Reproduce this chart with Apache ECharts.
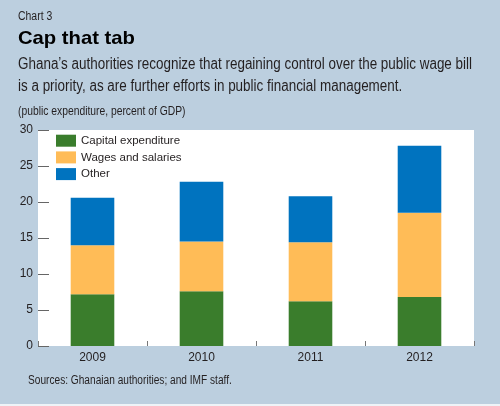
<!DOCTYPE html>
<html>
<head>
<meta charset="utf-8">
<script src="https://cdn.jsdelivr.net/npm/echarts@6/dist/echarts.min.js"></script>
<style>
html,body{margin:0;padding:0;background:#bccfdf;}
#c{width:500px;height:406px;}
</style>
</head>
<body>
<div id="c"></div>
<script>
var categories = ['2009', '2010', '2011', '2012'];
var capitalExpenditure = [7.2, 7.6, 6.2, 6.8];
var wagesAndSalaries = [6.8, 6.9, 8.2, 11.7];
var other = [6.6, 8.3, 6.4, 9.3];
var yTicks = [0, 5, 10, 15, 20, 25, 30];

var FONT = "'Liberation Sans','Arimo',sans-serif";
var TXT = '#231f20';

var chart = echarts.init(document.getElementById('c'), null, {renderer: 'canvas'});
chart.setOption({
  backgroundColor: '#bccfdf',
  animation: false,
  textStyle: {fontFamily: FONT, color: TXT},
  graphic: [
    {type: 'text', x: 18, y: 11, scaleX: 0.87, style: {text: 'Chart 3', font: '12px ' + FONT, fill: TXT}},
    {type: 'text', x: 18, y: 29, scaleX: 1.065, style: {text: 'Cap that tab', font: 'bold 19px ' + FONT, fill: '#000'}},
    {type: 'text', x: 18, y: 57, scaleX: 0.84, style: {text: 'Ghana\u2019s authorities recognize that regaining control over the public wage bill', font: '16px ' + FONT, fill: TXT}},
    {type: 'text', x: 18, y: 79, scaleX: 0.84, style: {text: 'is a priority, as are further efforts in public financial management.', font: '16px ' + FONT, fill: TXT}},
    {type: 'text', x: 18, y: 106, scaleX: 0.86, style: {text: '(public expenditure, percent of GDP)', font: '12px ' + FONT, fill: TXT}},
    {type: 'text', x: 28, y: 375, scaleX: 0.845, style: {text: 'Sources: Ghanaian authorities; and IMF staff.', font: '12px ' + FONT, fill: TXT}},
    {type: 'rect', x: 0, y: 404, shape: {width: 500, height: 2}, style: {fill: '#eef3f7'}}
  ],
  grid: {
    left: 38, right: 26, top: 130, bottom: 60,
    show: true, backgroundColor: '#ffffff', borderWidth: 0
  },
  legend: {
    orient: 'vertical',
    left: 56, top: 134.7, padding: 0,
    itemWidth: 20, itemHeight: 12, itemGap: 4.7,
    icon: 'rect',
    textStyle: {fontFamily: FONT, fontSize: 11.5, lineHeight: 12, color: TXT},
    data: ['Capital expenditure', 'Wages and salaries', 'Other']
  },
  xAxis: {
    type: 'category',
    data: categories,
    axisLine: {show: false},
    axisTick: {show: true, inside: true, length: 5, lineStyle: {color: '#777', width: 1}},
    axisLabel: {fontFamily: FONT, fontSize: 12, color: TXT, margin: 6}
  },
  yAxis: {
    type: 'value',
    min: yTicks[0], max: yTicks[yTicks.length - 1], interval: yTicks[1] - yTicks[0],
    axisLine: {show: false},
    axisTick: {show: true, inside: true, length: 11, lineStyle: {color: '#666', width: 1}},
    splitLine: {show: false},
    axisLabel: {fontFamily: FONT, fontSize: 12, color: TXT, margin: 5}
  },
  series: [
    {name: 'Capital expenditure', type: 'bar', stack: 'a', data: capitalExpenditure, barWidth: '40%', itemStyle: {color: '#3a7d2c'}},
    {name: 'Wages and salaries', type: 'bar', stack: 'a', data: wagesAndSalaries, barWidth: '40%', itemStyle: {color: '#ffbc57'}},
    {name: 'Other', type: 'bar', stack: 'a', data: other, barWidth: '40%', itemStyle: {color: '#0073bf'}}
  ]
});
</script>
</body>
</html>
